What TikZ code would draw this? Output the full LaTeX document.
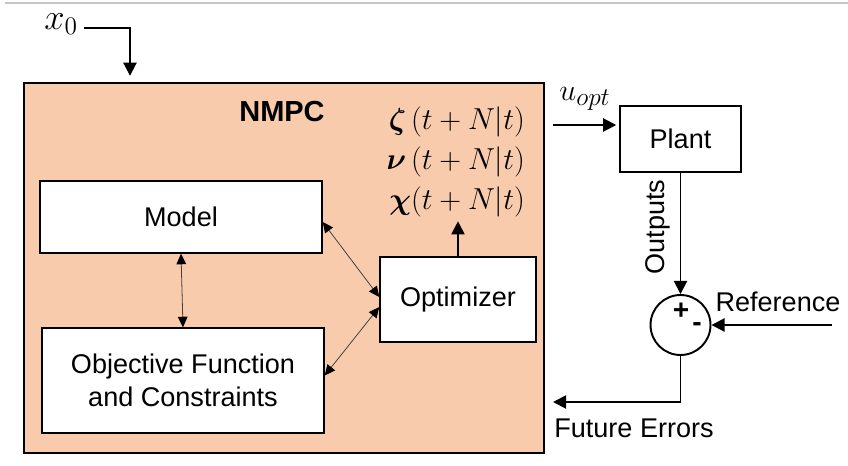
\documentclass[tikz,border=0pt]{standalone}
\usepackage{amsmath}
\usepackage{amssymb}
\usepackage{bm}
\usepackage{fontspec}
\setmainfont{Liberation Sans}
\usepackage{tikz}
\usepackage{xcolor}
\usetikzlibrary{arrows.meta}
\definecolor{peach}{HTML}{F8CBAD}
\definecolor{linkgray}{HTML}{404040}

\begin{document}
\begin{tikzpicture}[x=0.02cm, y=-0.02cm,
        font=\fontsize{15.4}{18.5}\selectfont,
        box/.style={draw, line width=0.85pt, fill=white, align=center, inner sep=0pt},
        bigarrow/.style={line width=1.1pt, -{Triangle[length=7.5pt, width=7.5pt]}},
        link/.style={draw=linkgray, line width=0.45pt, {Triangle[length=6pt, width=5.5pt, color=black]}-{Triangle[length=6pt, width=5.5pt, color=black]}},
        mathlbl/.style={anchor=east, inner sep=1pt, font=\fontsize{16.5}{19}\selectfont}]

        \useasboundingbox (0, 0) rectangle (848, 466);
        \draw[gray!45, line width=0.6pt] (5, 3) -- (848, 3);

        \node[box, fill=peach, minimum width=10.4cm, minimum height=7.4cm] (nmpc) at (284, 268) {};
        \node[font=\fontsize{16.5}{19}\selectfont\bfseries] (title) at (282, 112) {NMPC};

        \node[box, minimum width=5.64cm, minimum height=1.44cm] (model) at (181, 217) {Model};
        \node[box, minimum width=5.64cm, minimum height=2.1cm] (obj) at (183, 380.5) {Objective Function\\and Constraints};
        \node[box, minimum width=3.12cm, minimum height=1.7cm] (opt) at (458, 299.5) {Optimizer};
        \node[box, minimum width=2.42cm, minimum height=1.32cm] (plant) at (680.5, 139) {Plant};
        \node[draw, circle, line width=1.1pt, minimum size=1.2cm, inner sep=0pt] (sum) at (680.5, 325) {};

        \node[mathlbl] (zeta) at (527, 122) {$\boldsymbol{\zeta}\,(t+N|t)$};
        \node[mathlbl] (nu) at (527, 162) {$\boldsymbol{\nu}\,(t+N|t)$};
        \node[mathlbl] (chi) at (527, 202) {$\boldsymbol{\chi}(t+N|t)$};

        \node[anchor=east, font=\fontsize{20}{23}\selectfont] (x0) at (84, 24) {$x_0$};
        \coordinate (x0turn) at (130, 28);
        \coordinate (ustart) at (553, 125);
        \coordinate (refin) at (832, 325);
        \coordinate (ferr) at (553, 402);

        \draw[bigarrow, shorten >=0.13cm] ([yshift=-0.08cm]x0.east) -- (x0turn) -- (x0turn |- nmpc.north);
        \draw[bigarrow] (opt.north) -- ([yshift=-0.04cm]opt.north |- chi.south);
        \draw[link] (model.south) -- (obj.north);
        \draw[link] ([yshift=-0.1cm]model.east) -- ([yshift=0.05cm]opt.west);
        \draw[link] ([yshift=0.1cm]obj.east) -- ([yshift=-0.15cm]opt.west);
        \draw[bigarrow, shorten >=0.06cm] (ustart) -- ([yshift=0.28cm]plant.west);
        \draw[bigarrow] (plant.south) -- (sum.north);
        \draw[bigarrow] (refin) -- (sum.east);
        \draw[bigarrow] (sum.south) |- (ferr);

        \node[font=\fontsize{19}{22}\selectfont] (uopt) at (585, 99) {$u_{opt}$};
        \node[rotate=90] (outlbl) at (658, 227) {Outputs};
        \node (reflbl) at (778, 302) {Reference};
        \node (errlbl) at (634, 428) {Future Errors};
        \node[font=\fontsize{16}{18}\selectfont\bfseries] (plus) at (681, 311) {+};
        \node[font=\fontsize{16}{18}\selectfont\bfseries] (minus) at (697, 327) {-};

    \end{tikzpicture}
\end{document}
